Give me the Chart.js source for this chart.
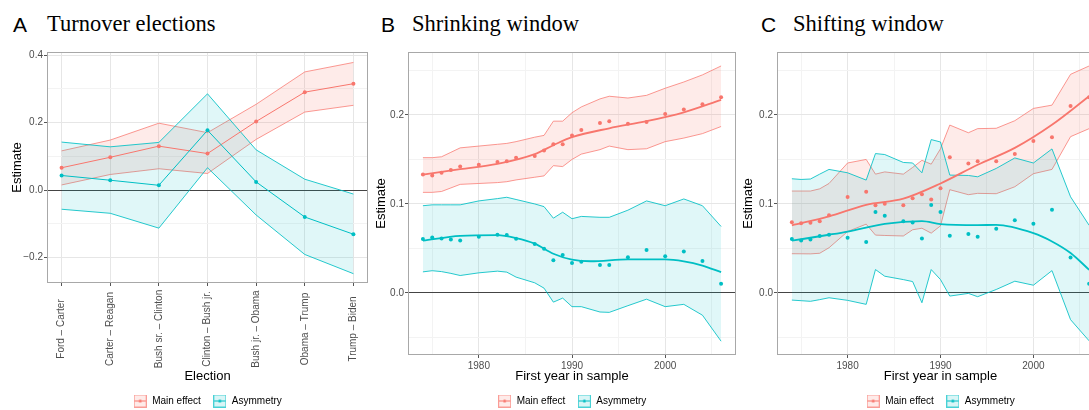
<!DOCTYPE html>
<html>
<head>
<meta charset="utf-8">
<script src="https://cdn.jsdelivr.net/npm/chart.js@4.4.1/dist/chart.umd.min.js"></script>
<style>
  html, body { margin: 0; padding: 0; background: #fff; overflow: hidden; width: 1089px; height: 410px; }
  .panel { position: absolute; top: 0; }
  .tag { position: absolute; top: 14px; font: 21px "Liberation Sans", Arial, sans-serif; color: #000; line-height: 1; }
  .ttl { position: absolute; top: 13px; font: 22.5px "Liberation Serif", "Times New Roman", serif; color: #000; line-height: 1; white-space: nowrap; }
</style>
</head>
<body>
<div class="tag" style="left:13px">A</div><div class="ttl" style="left:47px">Turnover elections</div>
<div class="tag" style="left:381px">B</div><div class="ttl" style="left:412px">Shrinking window</div>
<div class="tag" style="left:761px">C</div><div class="ttl" style="left:793px">Shifting window</div>

<canvas id="chartA" class="panel" style="left:0px" width="372" height="416"></canvas>
<canvas id="chartB" class="panel" style="left:372px" width="368" height="416"></canvas>
<canvas id="chartC" class="panel" style="left:740px" width="368" height="416"></canvas>

<script>
// ---- Panel A: turnover elections ----
const elections = ['Ford – Carter', 'Carter – Reagan', 'Bush sr. – Clinton', 'Clinton – Bush jr.',
                   'Bush jr. – Obama', 'Obama – Trump', 'Trump – Biden'];
const mainA      = [0.066, 0.097, 0.130, 0.108, 0.203, 0.290, 0.315];
const mainAUpper = [0.116, 0.148, 0.198, 0.170, 0.254, 0.350, 0.378];
const mainALower = [0.015, 0.046, 0.063, 0.049, 0.150, 0.231, 0.251];
const asymA      = [0.043, 0.029, 0.014, 0.177, 0.024, -0.080, -0.131];
const asymAUpper = [0.142, 0.128, 0.141, 0.285, 0.119, 0.032, -0.012];
const asymALower = [-0.057, -0.069, -0.113, 0.066, -0.074, -0.191, -0.248];
const yTicksA  = [-0.2, -0.1, 0, 0.1, 0.2, 0.3, 0.4];
const yMajorsA = [-0.2, 0, 0.2, 0.4];

// ---- Panels B and C: first year in sample ----
const years = [1974, 1975, 1976, 1977, 1978, 1980, 1982, 1983, 1984, 1986, 1987, 1988,
               1989, 1990, 1991, 1993, 1994, 1996, 1998, 2000, 2002, 2004, 2006];

const mainB      = [0.133, 0.132, 0.135, 0.138, 0.142, 0.144, 0.147, 0.148, 0.152, 0.154, 0.160, 0.167,
                    0.167, 0.177, 0.183, 0.191, 0.193, 0.190, 0.192, 0.201, 0.206, 0.212, 0.220];
const mainBUpper = [0.152, 0.152, 0.153, 0.158, 0.163, 0.165, 0.167, 0.168, 0.170, 0.175, 0.177, 0.193,
                    0.193, 0.2025, 0.209, 0.218, 0.221, 0.219, 0.222, 0.230, 0.237, 0.245, 0.255];
const mainBLower = [0.113, 0.113, 0.114, 0.118, 0.122, 0.123, 0.124, 0.125, 0.127, 0.130, 0.1315, 0.143,
                    0.142, 0.150, 0.156, 0.161, 0.165, 0.161, 0.162, 0.170, 0.174, 0.179, 0.187];
const asymB      = [0.0605, 0.0624, 0.0613, 0.0601, 0.059, 0.0631, 0.0654, 0.065, 0.0609, 0.055, 0.0497, 0.0367,
                    0.0427, 0.0337, 0.0352, 0.0315, 0.0315, 0.040, 0.0482, 0.0411, 0.0467, 0.036, 0.0103];
const asymBUpper = [0.098, 0.099, 0.099, 0.099, 0.099, 0.1034, 0.106, 0.1075, 0.105, 0.100, 0.097, 0.084,
                    0.0907, 0.0834, 0.086, 0.085, 0.085, 0.093, 0.1034, 0.098, 0.1056, 0.098, 0.0747];
const asymBLower = [0.0237, 0.025, 0.024, 0.022, 0.0196, 0.0226, 0.0245, 0.0234, 0.0178, 0.0114, 0.0054, -0.0103,
                    -0.0058, -0.0154, -0.0154, -0.0214, -0.0218, -0.0143, -0.007, -0.0154, -0.0128, -0.025, -0.0542];
// loess fits, read at a few years
const smoothMainBYears = [1974, 1978, 1982, 1986, 1988, 1990, 1994, 1998, 2002, 2006];
const smoothMainB      = [0.133, 0.139, 0.145, 0.156, 0.166, 0.175, 0.185, 0.193, 0.203, 0.217];
const smoothAsymBYears = [1974, 1978, 1982, 1984, 1986, 1988, 1990, 1992, 1996, 2000, 2002, 2004, 2006];
const smoothAsymB      = [0.0587, 0.0642, 0.065, 0.0617, 0.0554, 0.0441, 0.0374, 0.0356, 0.0378, 0.0378, 0.0356, 0.0308, 0.0233];

const mainC      = [0.0795, 0.0784, 0.079, 0.0806, 0.0873, 0.1078, 0.1137, 0.0985, 0.1003, 0.0985, 0.1063, 0.111,
                    0.105, 0.1175, 0.1525, 0.1455, 0.148, 0.148, 0.156, 0.1707, 0.175, 0.210, 0.220];
const mainCUpper = [0.1145, 0.1145, 0.1145, 0.117, 0.123, 0.146, 0.150, 0.1335, 0.136, 0.1335, 0.141, 0.149,
                    0.1447, 0.162, 0.1886, 0.180, 0.1846, 0.185, 0.1935, 0.2073, 0.211, 0.2456, 0.255];
const mainCLower = [0.0441, 0.044, 0.0439, 0.0446, 0.0508, 0.069, 0.0773, 0.065, 0.0646, 0.064, 0.071, 0.0727,
                    0.0672, 0.0754, 0.116, 0.1104, 0.1119, 0.1115, 0.1193, 0.134, 0.1388, 0.1756, 0.1846];
const asymC      = [0.0605, 0.059, 0.0601, 0.0639, 0.0654, 0.062, 0.0572, 0.091, 0.0866, 0.0806, 0.0791, 0.0613,
                    0.0989, 0.091, 0.0642, 0.0661, 0.0631, 0.072, 0.0818, 0.0777, 0.0936, 0.0397, 0.0103];
const asymCUpper = [0.1283, 0.1275, 0.128, 0.1335, 0.1388, 0.135, 0.1268, 0.1566, 0.1555, 0.1466, 0.146, 0.135,
                    0.1723, 0.1696, 0.1324, 0.132, 0.1305, 0.1399, 0.1517, 0.146, 0.1618, 0.108, 0.076];
const asymCLower = [-0.008, -0.0087, -0.0094, -0.0075, -0.0054, -0.0083, -0.0128, 0.0263, 0.0188, 0.015, 0.0128, -0.011,
                    0.0263, 0.015, -0.0035, -0.0005, -0.0042, 0.0039, 0.0132, 0.0087, 0.0251, -0.030, -0.0538];
const smoothMainCYears = [1974, 1978, 1982, 1986, 1990, 1994, 1998, 2002, 2006];
const smoothMainC      = [0.076, 0.086, 0.099, 0.106, 0.123, 0.144, 0.163, 0.189, 0.221];
const smoothAsymCYears = [1974, 1978, 1980, 1984, 1988, 1990, 1994, 1996, 2000, 2002, 2004, 2006];
const smoothAsymC      = [0.0587, 0.0654, 0.069, 0.0777, 0.0806, 0.0773, 0.0762, 0.0765, 0.0672, 0.0579, 0.0449, 0.026];

const yearTicks  = [1975, 1980, 1985, 1990, 1995, 2000, 2005];
const yearMajors = [1980, 1990, 2000];
const yTicksBC   = [-0.05, 0, 0.05, 0.1, 0.15, 0.2, 0.25];
const yMajorsBC  = [0, 0.1, 0.2];

const legendNames = ['Main effect', 'Asymmetry'];

// colours (ggplot defaults)
const colMain = '#F8766D', colAsym = '#00BFC4';
const fillMain = 'rgba(248,118,109,0.15)', fillAsym = 'rgba(0,191,196,0.12)';
const edgeMain = 'rgba(248,118,109,0.75)', edgeAsym = 'rgba(0,191,196,0.85)';
const sans = '"Liberation Sans", Arial, sans-serif';
const tickFont = { family: sans, size: 10 };

function pts(xs, ys) { return xs.map((x, i) => ({ x: x, y: ys[i] })); }
const isMajor = (list, v) => list.some(m => Math.abs(m - v) < 1e-9);
const fmt = v => (v < 0 ? '\u2212' : '') + Math.abs(v).toFixed(1);

// little boxed key glyph like ggplot's
function keyIcon(col, fill) {
  const c = document.createElement('canvas');
  c.width = 13; c.height = 13;
  const g = c.getContext('2d');
  g.fillStyle = fill; g.fillRect(0.5, 0.5, 12, 12);
  g.strokeStyle = col; g.globalAlpha = 0.7; g.lineWidth = 1; g.strokeRect(0.5, 0.5, 12, 12);
  g.globalAlpha = 1; g.beginPath(); g.moveTo(1, 6.5); g.lineTo(12, 6.5); g.stroke();
  g.fillStyle = col; g.beginPath(); g.arc(6.5, 6.5, 1.6, 0, Math.PI * 2); g.fill();
  return c;
}
const icons = [keyIcon(colMain, 'rgba(248,118,109,0.15)'), keyIcon(colAsym, 'rgba(0,191,196,0.15)')];

function ribbons(xs, lowM, upM, lowA, upA) {
  const edge = (data, col, fill, bg, order) => ({
    data: data, borderColor: col, borderWidth: 1, pointRadius: 0, tension: 0,
    fill: fill, backgroundColor: bg, order: order
  });
  return [
    edge(pts(xs, lowM), edgeMain, false, 'transparent', 4),
    edge(pts(xs, upM), edgeMain, 0, fillMain, 4),
    edge(pts(xs, lowA), edgeAsym, false, 'transparent', 3),
    edge(pts(xs, upA), edgeAsym, 2, fillAsym, 3)
  ];
}

const framePlugin = {
  id: 'frame',
  afterDraw(chart) {
    const { ctx, chartArea: a } = chart;
    ctx.save();
    ctx.strokeStyle = '#a8a8a8';
    ctx.lineWidth = 1;
    ctx.strokeRect(Math.round(a.left) + 0.5, Math.round(a.top) + 0.5,
                   Math.round(a.right - a.left) - 1, Math.round(a.bottom - a.top) - 1);
    ctx.restore();
  }
};

// ggplot centres the vertical election labels on one line, Chart.js right-aligns them
const centredLabels = {
  id: 'centredLabels',
  afterDraw(chart) {
    const { ctx } = chart;
    const x = chart.scales.x;
    ctx.save();
    ctx.fillStyle = '#4d4d4d';
    ctx.font = '10px ' + sans;
    ctx.textAlign = 'center';
    ctx.textBaseline = 'middle';
    elections.forEach((t, i) => {
      ctx.save();
      ctx.translate(x.getPixelForValue(i), 329);
      ctx.rotate(-Math.PI / 2);
      ctx.fillText(t, 0, 0);
      ctx.restore();
    });
    ctx.restore();
  }
};

function buildOptions(cfg) {
  const gridColor = (majors, zeroLine) => ctx => {
    const v = ctx.tick.value;
    if (zeroLine && Math.abs(v) < 1e-9) return '#444';
    return isMajor(majors, v) ? '#e6e6e6' : '#f3f3f3';
  };
  return {
    responsive: false,
    animation: false,
    events: [],
    layout: { padding: { top: 52, right: cfg.padRight, left: 0, bottom: 0 } },
    plugins: {
      tooltip: { enabled: false },
      legend: {
        position: 'bottom',
        fullSize: false,
        onClick: null,
        labels: {
          usePointStyle: true,
          pointStyleWidth: 14,
          padding: 12,
          color: '#1a1a1a',
          font: { family: sans, size: 10 },
          generateLabels: () => legendNames.map((t, i) => ({
            text: t, pointStyle: icons[i], fillStyle: 'transparent', strokeStyle: 'transparent',
            lineWidth: 0, hidden: false, datasetIndex: i
          }))
        }
      }
    },
    scales: {
      x: {
        type: 'linear',
        min: cfg.xMin, max: cfg.xMax,
        afterBuildTicks: s => { s.ticks = cfg.xTicks.map(v => ({ value: v })); },
        afterFit: s => { s.height = cfg.xHeight; },
        border: { display: false },
        grid: {
          color: gridColor(cfg.xMajors, false),
          lineWidth: 1,
          drawTicks: true, tickLength: 3,
          tickColor: ctx => isMajor(cfg.xMajors, ctx.tick.value) ? '#555' : 'rgba(0,0,0,0)'
        },
        ticks: {
          display: cfg.xLabelsShown, autoSkip: false, padding: 2, maxRotation: 0,
          color: '#4d4d4d', font: tickFont,
          callback: cfg.xLabel
        },
        title: {
          display: true, text: cfg.xTitle, color: '#000',
          font: { family: sans, size: 13 }, padding: { top: 0, bottom: 0 }
        }
      },
      y: {
        type: 'linear',
        min: cfg.yMin, max: cfg.yMax,
        afterBuildTicks: s => { s.ticks = cfg.yTicks.map(v => ({ value: v })); },
        afterFit: s => { s.width = cfg.yWidth; },
        border: { display: false },
        grid: {
          color: gridColor(cfg.yMajors, true),
          lineWidth: 1,
          drawTicks: true, tickLength: 3,
          tickColor: ctx => isMajor(cfg.yMajors, ctx.tick.value) ? '#555' : 'rgba(0,0,0,0)'
        },
        ticks: {
          padding: 1,
          color: '#4d4d4d', font: tickFont,
          callback: v => isMajor(cfg.yMajors, v) ? fmt(v) : ''
        },
        title: {
          display: true, text: 'Estimate', color: '#000',
          font: { family: sans, size: 13 }, padding: { top: cfg.yTitlePad, bottom: 0 }
        }
      }
    }
  };
}

// ---- chart A ----
const idxA = elections.map((_, i) => i);
const chartA = new Chart(document.getElementById('chartA'), {
  type: 'line',
  data: {
    datasets: ribbons(idxA, mainALower, mainAUpper, asymALower, asymAUpper).concat([
      { data: pts(idxA, mainA), borderColor: colMain, borderWidth: 1, pointRadius: 2, pointBorderWidth: 0,
        pointBackgroundColor: colMain, fill: false, order: 1 },
      { data: pts(idxA, asymA), borderColor: colAsym, borderWidth: 1, pointRadius: 2, pointBorderWidth: 0,
        pointBackgroundColor: colAsym, fill: false, order: 0 }
    ])
  },
  options: buildOptions({
    padRight: 4, yWidth: 47, yTitlePad: 10, xHeight: 101,
    xMin: -0.3, xMax: 6.3, xTicks: idxA, xMajors: idxA, xLabelsShown: false,
    xLabel: v => elections[v], xTitle: 'Election',
    yMin: -0.2756, yMax: 0.409, yTicks: yTicksA, yMajors: yMajorsA
  }),
  plugins: [framePlugin, centredLabels]
});

function windowChart(id, main, mainUp, mainLo, asym, asymUp, asymLo, smMY, smM, smAY, smA, yWidth, yTitlePad, padRight) {
  return new Chart(document.getElementById(id), {
    type: 'line',
    data: {
      datasets: ribbons(years, mainLo, mainUp, asymLo, asymUp).concat([
        { data: pts(smMY, smM), borderColor: colMain, borderWidth: 1.8, pointRadius: 0,
          cubicInterpolationMode: 'monotone', fill: false, order: 1 },
        { data: pts(smAY, smA), borderColor: colAsym, borderWidth: 1.8, pointRadius: 0,
          cubicInterpolationMode: 'monotone', fill: false, order: 1 },
        { data: pts(years, main), showLine: false, pointRadius: 2, pointBorderWidth: 0,
          pointBackgroundColor: colMain, fill: false, order: 0 },
        { data: pts(years, asym), showLine: false, pointRadius: 2, pointBorderWidth: 0,
          pointBackgroundColor: colAsym, fill: false, order: 0 }
      ])
    },
    options: buildOptions({
      padRight: padRight, yWidth: yWidth, yTitlePad: yTitlePad, xHeight: 29,
      xMin: 1972.4, xMax: 2007.6, xTicks: yearTicks, xMajors: yearMajors, xLabelsShown: true,
      xLabel: v => isMajor(yearMajors, v) ? String(v) : '', xTitle: 'First year in sample',
      yMin: -0.0697, yMax: 0.2707, yTicks: yTicksBC, yMajors: yMajorsBC
    }),
    plugins: [framePlugin]
  });
}

const chartB = windowChart('chartB', mainB, mainBUpper, mainBLower, asymB, asymBUpper, asymBLower,
  smoothMainBYears, smoothMainB, smoothAsymBYears, smoothAsymB, 36, 2, 4);
const chartC = windowChart('chartC', mainC, mainCUpper, mainCLower, asymC, asymCUpper, asymCLower,
  smoothMainCYears, smoothMainC, smoothAsymCYears, smoothAsymC, 37, 1, 3);
</script>
</body>
</html>
